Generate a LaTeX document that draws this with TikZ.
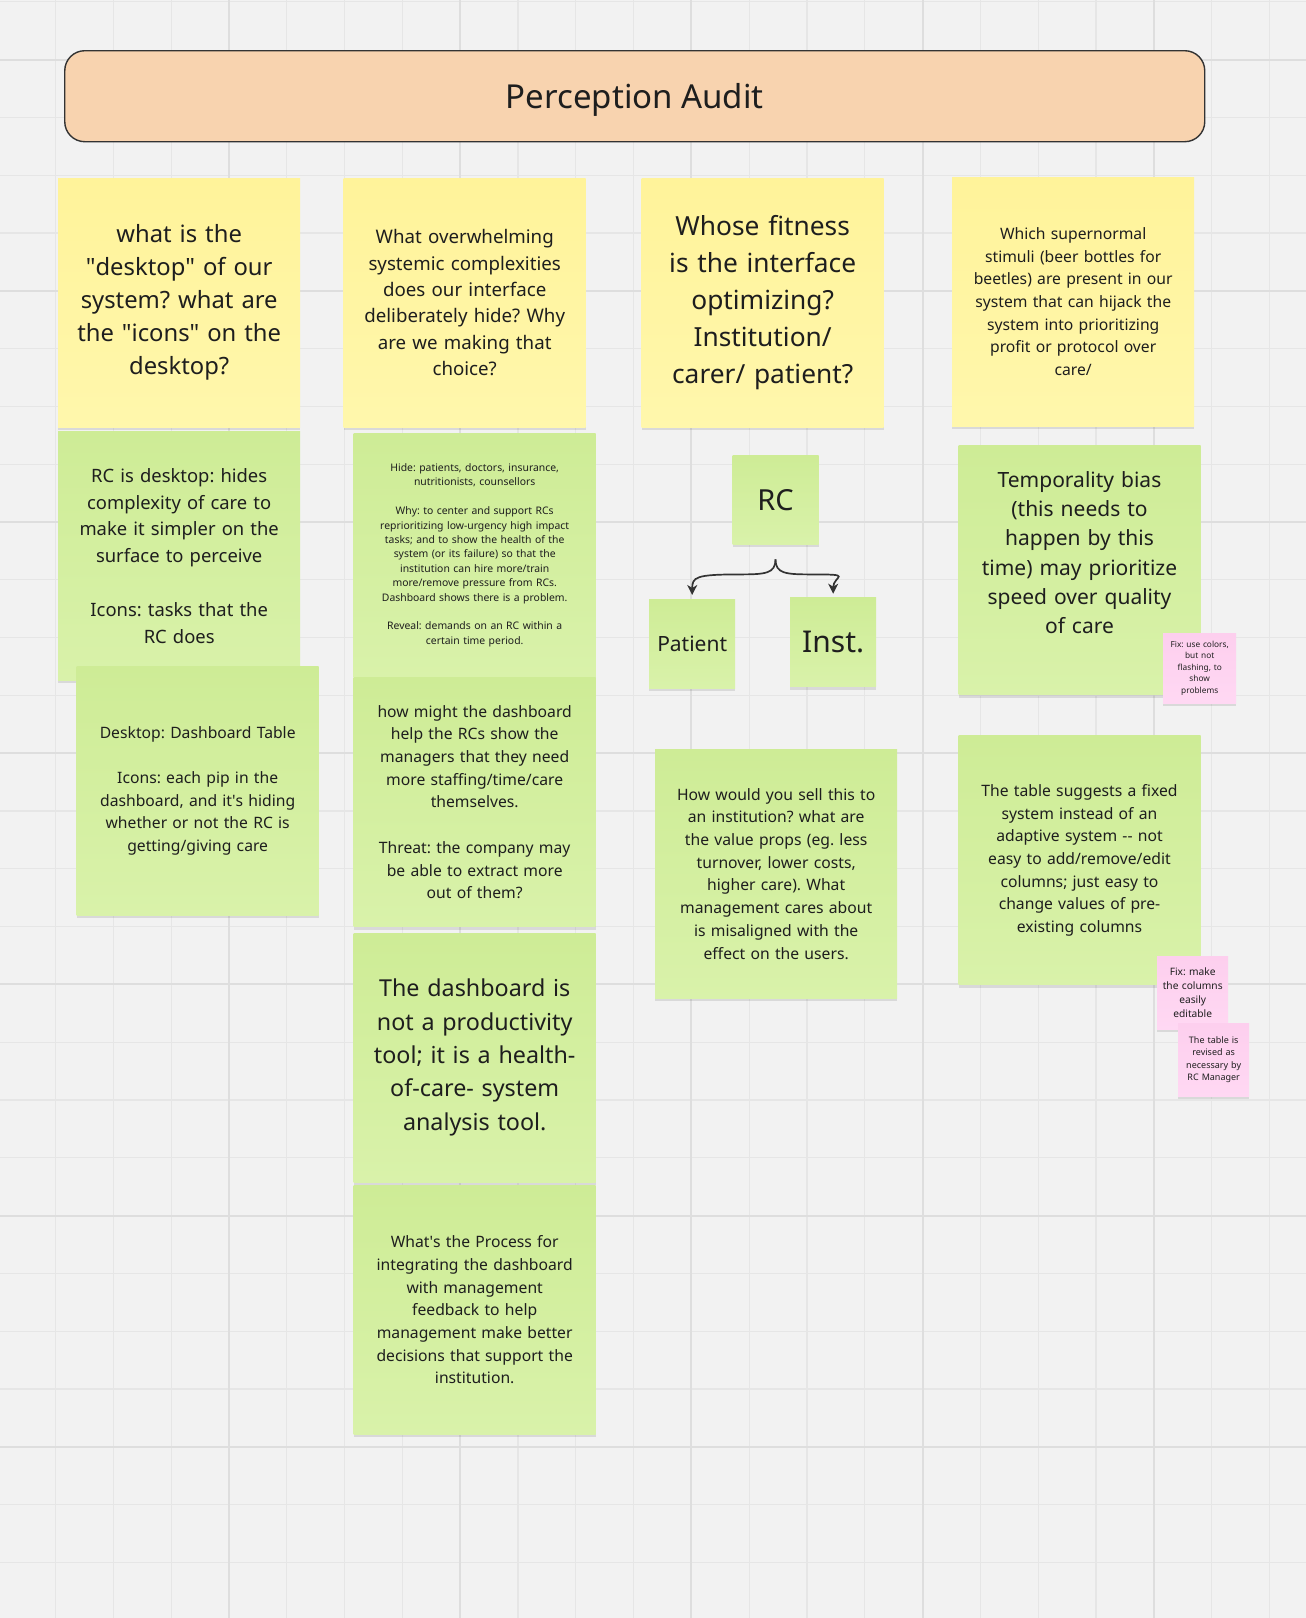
\documentclass[tikz,border=0pt]{standalone}
\usepackage{fontspec}
\setmainfont{Noto Sans}
\usetikzlibrary{positioning,shadows,arrows.meta}
\definecolor{cBoard}{HTML}{F2F2F2}
\definecolor{cGrid}{HTML}{E6E6E6}
\definecolor{cGridB}{HTML}{DEDEDE}
\definecolor{cInk}{HTML}{1E1E1E}
\definecolor{cEdge}{HTML}{333333}
\definecolor{cTitle}{HTML}{F8D3AF}
\definecolor{cYelTop}{HTML}{FFF39A}
\definecolor{cYelBot}{HTML}{FFF7AC}
\definecolor{cGrnTop}{HTML}{CEEC96}
\definecolor{cGrnBot}{HTML}{D9F2AA}
\definecolor{cPnkTop}{HTML}{FDCFEE}
\definecolor{cPnkBot}{HTML}{FFD8F3}
\newcommand{\fsz}[2]{\fontsize{#1}{#2}\selectfont}
\newcommand{\sq}{\textquotesingle}
\newcommand{\dq}{\textquotedbl}

\begin{document}
\frenchspacing
\begin{tikzpicture}[
  x=1pt,y=-1pt,
  gridln/.style={draw=cGrid,line width=1.2pt},
  gridbd/.style={draw=cGridB,line width=2pt},
  title/.style={draw=cEdge,line width=1.4pt,fill=cTitle,rounded corners=20pt,
                minimum width=1140pt,minimum height=91pt,text=cInk,
                text depth=0pt,font=\fsz{33}{45}},
  note/.style={anchor=north west,inner sep=0pt,align=center,text=cInk,
               minimum width=242pt,minimum height=249pt,text width=228pt,
               drop shadow={shadow xshift=0pt,shadow yshift=-3pt,
                            opacity=0.10,fill=black}},
  yel/.style={note,top color=cYelTop,bottom color=cYelBot},
  grn/.style={note,top color=cGrnTop,bottom color=cGrnBot},
  chip/.style={grn,minimum width=86pt,minimum height=89pt,text width=80pt},
  tag/.style={note,top color=cPnkTop,bottom color=cPnkBot,
              minimum width=71pt,minimum height=73pt,text width=68pt},
  brc/.style={-{Stealth[length=10pt,width=10pt,inset=3pt]},draw=cEdge,
              line width=1.7pt,shorten >=4pt},
  ]
  % board
  \useasboundingbox (0,0) rectangle (1306,1618);
  \fill[cBoard] (0,0) rectangle (1306,1618);
  \foreach \k in {0,...,23} \draw[gridln] ({-2.2+57.8*\k},0) -- ++(0,1618);
  \foreach \k in {0,...,28} \draw[gridln] (0,{1.7+57.8*\k}) -- ++(1306,0);
  \foreach \k in {0,...,5} \draw[gridbd] ({-2.2+231.2*\k},0) -- ++(0,1618);
  \foreach \k in {0,...,6} \draw[gridbd] (0,{59.5+231.2*\k}) -- ++(1306,0);

  \node[title] (title) at (634.75,96.2) {Perception Audit};

  % questions
  \node[yel,font=\fsz{23.8}{33}] (qdesk) at (58,178)
    {what is the\\ \dq desktop\dq{} of our\\ system? what are\\
     the \dq icons\dq{} on the\\ desktop?};
  \node[yel,font=\fsz{18.7}{26.4}] (qhide) at (343.5,178)
    {What overwhelming\\ systemic complexities\\ does our interface\\
     deliberately hide? Why\\ are we making that\\ choice?};
  \node[yel,font=\fsz{26.3}{37.1}] (qfit) at (641.5,178)
    {Whose fitness\\ is the interface\\ optimizing?\\ Institution/\\ carer/ patient?};
  \node[yel,font=\fsz{15.7}{22.7}] (qstim) at (952,177)
    {Which supernormal\\ stimuli (beer bottles for\\ beetles) are present in our\\
     system that can hijack the\\ system into prioritizing\\ profit or protocol over\\ care/};

  % column 1
  \node[grn,font=\fsz{18.4}{26.8}] (rcdesk) at (58,431)
    {RC is desktop: hides\\ complexity of care to\\ make it simpler on the\\
     surface to perceive\\[26.8pt] Icons: tasks that the\\ RC does};
  \node[grn,font=\fsz{15.7}{22.7}] (dtable) at (76.5,666)
    {Desktop: Dashboard Table\\[22.7pt] Icons: each pip in the\\
     dashboard, and it\sq s hiding\\ whether or not the RC is\\ getting/giving care};

  % column 2
  \node[grn,minimum height=244pt,font=\fsz{10.4}{14.4}] (hide) at (353.5,433)
    {Hide: patients, doctors, insurance,\\ nutritionists, counsellors\\[14.4pt]
     Why: to center and support RCs\\ reprioritizing low-urgency high impact\\
     tasks; and to show the health of the\\ system (or its failure) so that the\\
     institution can hire more/train\\ more/remove pressure from RCs.\\
     Dashboard shows there is a problem.\\[14.4pt]
     Reveal: demands on an RC within a\\ certain time period.};
  \node[grn,anchor=north,below=0pt of hide,font=\fsz{15.7}{22.7}] (mightdb)
    {how might the dashboard\\ help the RCs show the\\ managers that they need\\
     more staffing/time/care\\ themselves.\\[22.7pt]
     Threat: the company may\\ be able to extract more\\ out of them?};
  \node[grn,anchor=north,below=6pt of mightdb,font=\fsz{23.3}{33.3}] (notprod)
    {The dashboard is\\ not a productivity\\ tool; it is a health-\\
     of-care- system\\ analysis tool.};
  \node[grn,anchor=north,below=3pt of notprod,font=\fsz{15.7}{22.7}] (process)
    {What\sq s the Process for\\ integrating the dashboard\\ with management\\
     feedback to help\\ management make better\\ decisions that support the\\
     institution.};

  % column 3
  \node[chip,font=\fsz{29}{38}] (rc) at (732.3,455) {RC};
  \node[chip,font=\fsz{21}{28}] (patient) at (649,599) {Patient};
  \node[chip,font=\fsz{30}{40}] (inst) at (790,597.7) {Inst.};
  \coordinate[below=15pt of rc] (fork);
  \draw[brc] (fork) .. controls +(0,14) and +(25,0) .. ++(-35,15)
    .. controls +(-45,0) and +(0,-22) .. (patient.north);
  \draw[brc] (fork) .. controls +(0,14) and +(-25,0) .. ++(35,15)
    .. controls +(45,0) and +(0,-22) .. (inst.north);
  \node[grn,font=\fsz{15.7}{22.7}] (sell) at (655,749)
    {How would you sell this to\\ an institution? what are\\ the value props (eg. less\\
     turnover, lower costs,\\ higher care). What\\ management cares about\\
     is misaligned with the\\ effect on the users.};

  % column 4
  \node[grn,font=\fsz{21}{29.3}] (tempo) at (958.3,445.7)
    {Temporality bias\\ (this needs to\\ happen by this\\ time) may prioritize\\
     speed over quality\\ of care\\[6.7pt]\mbox{}};
  \node[grn,font=\fsz{15.7}{22.7}] (fixed) at (958.3,735.6)
    {The table suggests a fixed\\ system instead of an\\ adaptive system -{}- not\\
     easy to add/remove/edit\\ columns; just easy to\\ change values of pre-\\
     existing columns};
  \node[tag,minimum width=73pt,minimum height=70pt,font=\fsz{8.3}{11.6}] (fixcol)
    at (1163,633) {Fix: use colors,\\ but not\\ flashing, to\\ show\\ problems};
  \node[tag,font=\fsz{10.2}{14.1}] (fixedit) at (1157,956)
    {Fix: make\\ the columns\\ easily\\ editable};
  \node[tag,font=\fsz{9}{12.4}] (revised) at (1178,1023)
    {The table is\\ revised as\\ necessary by\\ RC Manager};
\end{tikzpicture}
\end{document}
